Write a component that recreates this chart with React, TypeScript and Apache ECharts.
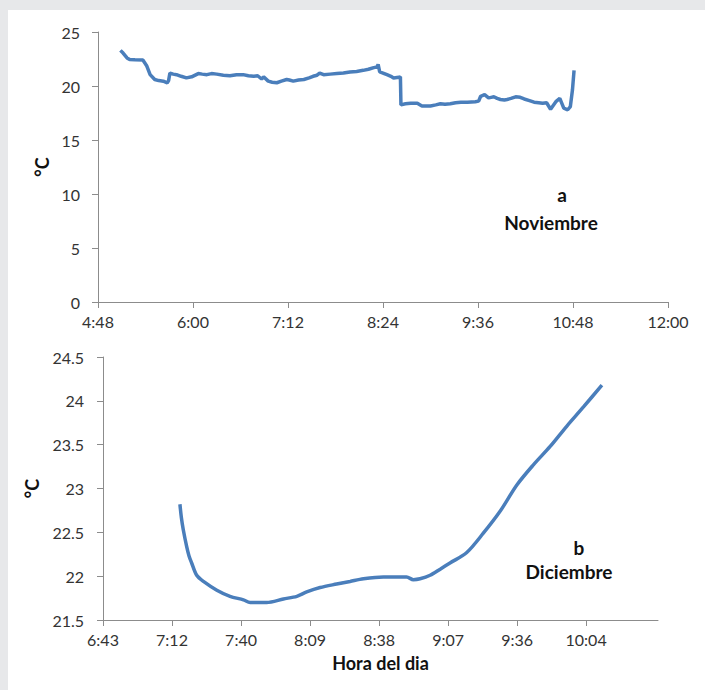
import React, { useEffect, useRef } from "react";
import * as echarts from "echarts";

// Panel a (Noviembre): time in minutes after midnight, temperature in °C
const timesA = [305, 307, 310, 312, 316, 322, 325, 327.5, 331, 334, 337.5, 340.5, 341.5, 342.5, 345, 347.5, 351, 355, 359, 364, 367, 370.5, 374, 378, 383, 388, 393, 398, 402, 406, 409, 412, 413.5, 417, 420, 423.5, 427, 431, 433, 436, 440, 444, 448, 451, 454, 456, 459, 464, 469, 474, 479, 484, 489, 493, 497, 499.5, 500.3, 501.5, 504, 507, 510, 512, 516, 517.2, 517.6, 521, 525, 530, 533.5, 537, 540, 544, 547.5, 551, 555, 559, 563, 568, 574, 576.5, 578, 581, 584, 586, 588, 590.5, 593, 596, 598, 601, 604.5, 608, 611, 615, 618.5, 622, 625, 628, 631, 635, 638, 641, 644, 646, 647.6, 648.8];
const tempsA = [23.3, 23.05, 22.6, 22.45, 22.42, 22.4, 21.85, 21.05, 20.6, 20.5, 20.45, 20.3, 20.5, 21.2, 21.1, 21.05, 20.9, 20.75, 20.85, 21.15, 21.1, 21.05, 21.15, 21.1, 21.0, 20.95, 21.05, 21.05, 20.95, 20.9, 20.95, 20.65, 20.85, 20.45, 20.35, 20.3, 20.45, 20.6, 20.55, 20.45, 20.55, 20.6, 20.75, 20.9, 21.0, 21.2, 21.05, 21.1, 21.15, 21.2, 21.3, 21.35, 21.45, 21.55, 21.7, 21.75, 22.0, 21.3, 21.2, 21.05, 20.9, 20.75, 20.8, 20.85, 18.25, 18.35, 18.4, 18.4, 18.15, 18.15, 18.15, 18.25, 18.35, 18.3, 18.35, 18.45, 18.5, 18.5, 18.55, 18.6, 19.05, 19.2, 18.9, 18.95, 19.0, 18.85, 18.75, 18.7, 18.75, 18.85, 19.0, 18.95, 18.8, 18.65, 18.5, 18.45, 18.4, 18.45, 17.85, 18.55, 18.85, 17.95, 17.8, 18.1, 19.65, 21.45];

// Panel b (Diciembre)
const timesB = [435.3, 435.9, 436.7, 438.1, 439.1, 440.2, 442.3, 445.1, 450.7, 456.2, 461.8, 464.6, 471.5, 478.5, 484.1, 488.2, 493.8, 500.7, 506.3, 511.9, 520.2, 529.9, 532.7, 535.5, 539.7, 543.9, 548, 555, 561.9, 568.9, 575.9, 582.8, 589.8, 596.7, 603.7, 611.4];
const tempsB = [22.82, 22.67, 22.53, 22.34, 22.23, 22.15, 22.01, 21.94, 21.84, 21.77, 21.73, 21.7, 21.7, 21.74, 21.77, 21.82, 21.87, 21.91, 21.94, 21.97, 21.99, 21.99, 21.96, 21.97, 22.01, 22.08, 22.15, 22.27, 22.49, 22.74, 23.04, 23.27, 23.48, 23.71, 23.93, 24.18];

// Tick values / labels
const yTicksA = { min: 0, max: 25, interval: 5 };
const xTicksA = { min: 288, max: 720, interval: 72 }; // 4:48 .. 12:00
const yTicksB = { min: 21.5, max: 24.5, interval: 0.5 };
const tickValuesB = [403.2, 432, 460.8, 489.6, 518.4, 547.2, 576, 604.8];
const tickLabelsB = ["6:43", "7:12", "7:40", "8:09", "8:38", "9:07", "9:36", "10:04"];

const FONT = "Lato";
const AXIS_COLOR = "#8c8c8c";
const LINE_COLOR = "#4a7ebb";

function toHM(v: number): string {
  const m = Math.floor(v + 1e-6);
  const h = Math.floor(m / 60);
  const mm = m % 60;
  return h + ":" + (mm < 10 ? "0" : "") + mm;
}

export default function App() {
  const ref = useRef<HTMLDivElement>(null);
  useEffect(() => {
    if (!ref.current) return;
    const chart = echarts.init(ref.current, null, { renderer: "svg" });
    const axisCommon = {
      axisLine: { show: true, lineStyle: { color: AXIS_COLOR, width: 1 } },
      axisTick: { show: true, length: 6, lineStyle: { color: AXIS_COLOR } },
      splitLine: { show: false },
    };
    const labelStyle = { color: "#333", fontFamily: FONT, fontSize: 16 };
    const nameStyle = { color: "#111", fontFamily: FONT, fontSize: 18, fontWeight: "bold" as const };
    const noteFont = "bold 19px Lato";
    chart.setOption({
      animation: false,
      backgroundColor: "#e7e8ea",
      graphic: [
        { type: "rect", z: -10, shape: { x: 8, y: 10, width: 697, height: 680 }, style: { fill: "#ffffff" } },
        { type: "text", x: 562, y: 194, style: { text: "a", fill: "#111", font: noteFont, align: "center", verticalAlign: "middle" } },
        { type: "text", x: 551, y: 222, style: { text: "Noviembre", fill: "#111", font: noteFont, align: "center", verticalAlign: "middle" } },
        { type: "text", x: 579, y: 547, style: { text: "b", fill: "#111", font: noteFont, align: "center", verticalAlign: "middle" } },
        { type: "text", x: 569, y: 571, style: { text: "Diciembre", fill: "#111", font: noteFont, align: "center", verticalAlign: "middle" } },
      ],
      grid: [
        { left: 98, top: 32, width: 570, height: 270, containLabel: false },
        { left: 103, top: 357, width: 555, height: 263, containLabel: false },
      ],
      xAxis: [
        {
          type: "value",
          gridIndex: 0,
          min: xTicksA.min,
          max: xTicksA.max,
          interval: xTicksA.interval,
          ...axisCommon,
          axisLabel: { ...labelStyle, margin: 11, formatter: (v: number) => toHM(v) },
        },
        {
          type: "value",
          gridIndex: 1,
          min: 403.2,
          max: 634.8,
          ...axisCommon,
          axisTick: { show: true, length: 6, lineStyle: { color: AXIS_COLOR }, customValues: tickValuesB },
          axisLabel: {
            ...labelStyle,
            margin: 11,
            customValues: tickValuesB,
            formatter: (v: number) => {
              let best = 0;
              for (let i = 0; i < tickValuesB.length; i++) {
                if (Math.abs(tickValuesB[i] - v) < Math.abs(tickValuesB[best] - v)) best = i;
              }
              return tickLabelsB[best];
            },
          },
          name: "Hora del dia",
          nameLocation: "middle",
          nameGap: 34,
          nameTextStyle: nameStyle,
        },
      ],
      yAxis: [
        {
          type: "value",
          gridIndex: 0,
          min: yTicksA.min,
          max: yTicksA.max,
          interval: yTicksA.interval,
          ...axisCommon,
          axisLabel: { ...labelStyle, margin: 18 },
          name: "°C",
          nameLocation: "middle",
          nameRotate: 90,
          nameGap: 47,
          nameTextStyle: nameStyle,
        },
        {
          type: "value",
          gridIndex: 1,
          min: yTicksB.min,
          max: yTicksB.max,
          interval: yTicksB.interval,
          ...axisCommon,
          axisLabel: { ...labelStyle, margin: 19 },
          name: "°C",
          nameLocation: "middle",
          nameRotate: 90,
          nameGap: 62,
          nameTextStyle: nameStyle,
        },
      ],
      series: [
        {
          type: "line",
          xAxisIndex: 0,
          yAxisIndex: 0,
          data: timesA.map((t, i) => [t, tempsA[i]]),
          showSymbol: false,
          lineStyle: { color: LINE_COLOR, width: 3.5 },
          itemStyle: { color: LINE_COLOR },
        },
        {
          type: "line",
          xAxisIndex: 1,
          yAxisIndex: 1,
          data: timesB.map((t, i) => [t, tempsB[i]]),
          showSymbol: false,
          smooth: 0.3,
          lineStyle: { color: LINE_COLOR, width: 3.5 },
          itemStyle: { color: LINE_COLOR },
        },
      ],
    });
    return () => chart.dispose();
  }, []);
  return (
    <div
      ref={ref}
      style={{ position: "fixed", left: 0, top: 0, width: 705, height: 690 }}
    />
  );
}
